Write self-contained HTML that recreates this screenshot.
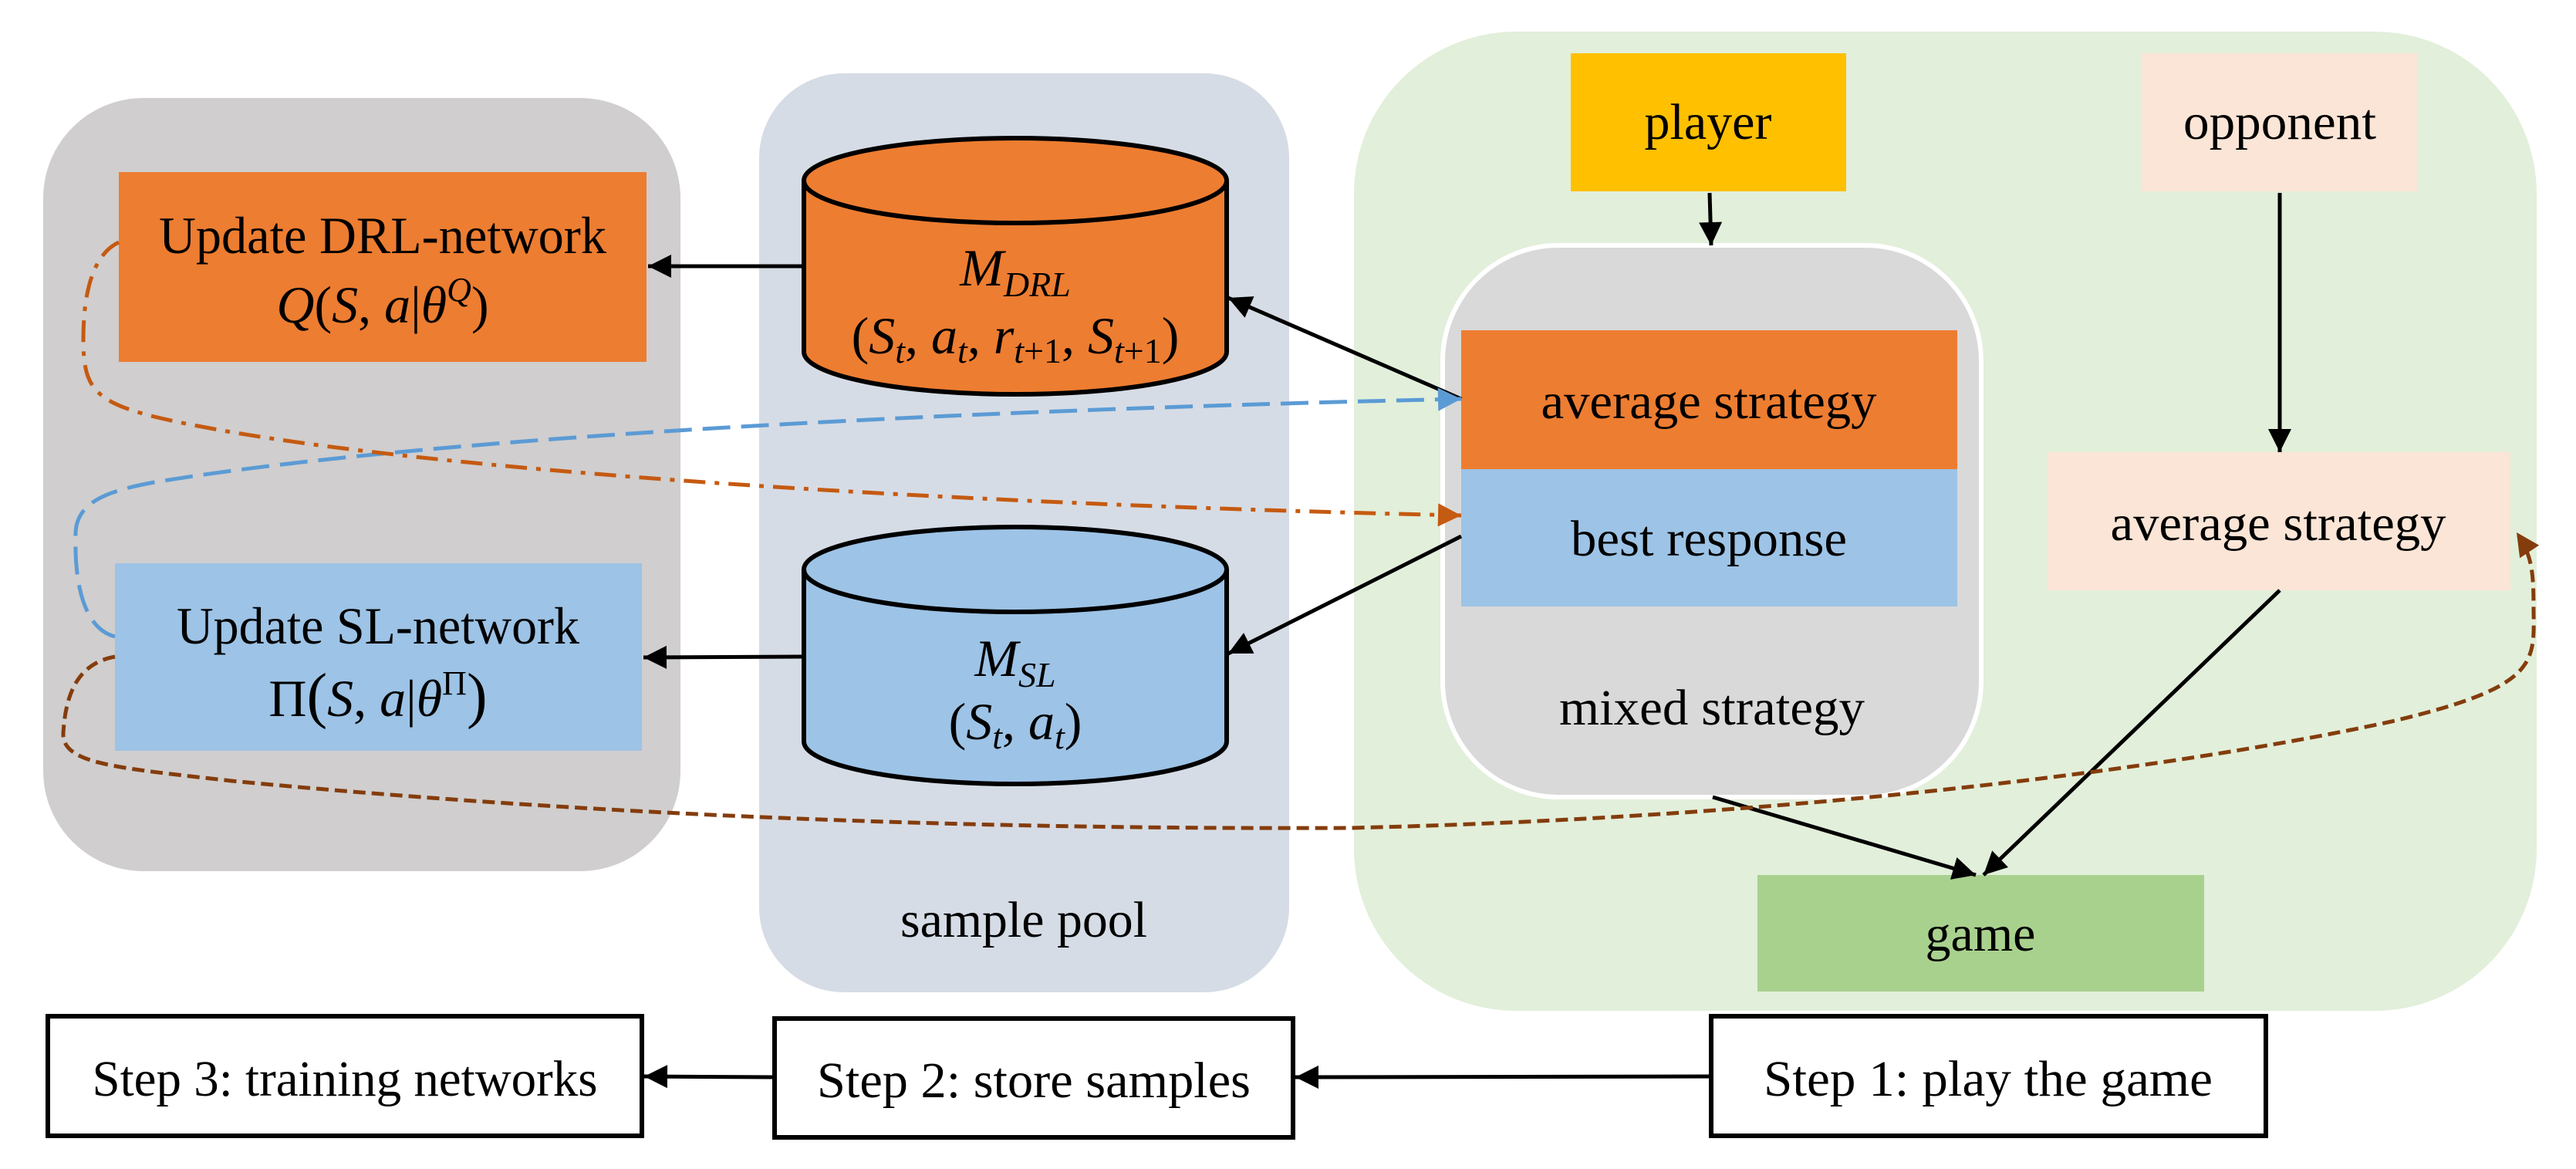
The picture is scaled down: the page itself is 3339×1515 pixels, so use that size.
<!DOCTYPE html>
<html><head><meta charset="utf-8"><style>
html,body{margin:0;padding:0;background:#fff}
svg{display:block}
text{font-family:"Liberation Serif",serif;fill:#000}
</style></head><body>
<svg width="3339" height="1515" viewBox="0 0 3339 1515" xmlns="http://www.w3.org/2000/svg">
<defs>
<marker id="ak" viewBox="0 0 10 10" refX="10" refY="5" markerWidth="34" markerHeight="30" orient="auto" markerUnits="userSpaceOnUse"><path d="M0,0 L10,5 L0,10 z" fill="#000"/></marker>
<marker id="abl" viewBox="0 0 10 10" refX="10" refY="5" markerWidth="34" markerHeight="30" orient="auto" markerUnits="userSpaceOnUse"><path d="M0,0 L10,5 L0,10 z" fill="#5B9BD5"/></marker>
<marker id="aor" viewBox="0 0 10 10" refX="10" refY="5" markerWidth="34" markerHeight="30" orient="auto" markerUnits="userSpaceOnUse"><path d="M0,0 L10,5 L0,10 z" fill="#C55A11"/></marker>
<marker id="abr" viewBox="0 0 10 10" refX="10" refY="5" markerWidth="34" markerHeight="30" orient="auto" markerUnits="userSpaceOnUse"><path d="M0,0 L10,5 L0,10 z" fill="#843C0C"/></marker>
</defs>

<rect x="56" y="127" width="826" height="1002" rx="130" fill="#D0CECE"/>
<rect x="984" y="95" width="687" height="1191" rx="110" fill="#D6DCE5"/>
<rect x="1755" y="41" width="1533" height="1269" rx="210" fill="#E2EFDA"/>

<rect x="154" y="223" width="684" height="246" fill="#ED7D31"/>
<text x="496" y="328" font-size="68" text-anchor="middle" textLength="580" lengthAdjust="spacingAndGlyphs">Update DRL-network</text>
<text x="496" y="418" font-size="68" text-anchor="middle" font-style="italic">Q<tspan font-style="normal">(</tspan>S<tspan font-style="normal">, </tspan>a<tspan font-style="normal">|</tspan>θ<tspan font-size="44" dy="-28">Q</tspan><tspan font-style="normal" dy="28">)</tspan></text>

<rect x="149" y="730" width="683" height="243" fill="#9DC3E6"/>
<text x="490" y="834" font-size="68" text-anchor="middle" textLength="522" lengthAdjust="spacingAndGlyphs">Update SL-network</text>
<text x="490" y="928" font-size="68" text-anchor="middle">Π<tspan font-size="80">(</tspan><tspan font-style="italic">S</tspan>, <tspan font-style="italic">a</tspan>|<tspan font-style="italic">θ</tspan><tspan font-size="44" dy="-28">Π</tspan><tspan font-size="80" dy="28">)</tspan></text>

<path d="M1042,234 L1042,456 A274,55 0 0 0 1590,456 L1590,234" fill="#ED7D31" stroke="#000" stroke-width="6"/>
<ellipse cx="1316" cy="234" rx="274" ry="55" fill="#ED7D31" stroke="#000" stroke-width="6"/>
<text x="1316" y="370" font-size="68" text-anchor="middle" font-style="italic">M<tspan font-size="46" dy="14">DRL</tspan></text>
<text x="1316" y="458" font-size="68" text-anchor="middle">(<tspan font-style="italic">S</tspan><tspan font-size="46" dy="12" font-style="italic">t</tspan><tspan dy="-12">, </tspan><tspan font-style="italic">a</tspan><tspan font-size="46" dy="12" font-style="italic">t</tspan><tspan dy="-12">, </tspan><tspan font-style="italic">r</tspan><tspan font-size="46" dy="12"><tspan font-style="italic">t</tspan>+1</tspan><tspan dy="-12">, </tspan><tspan font-style="italic">S</tspan><tspan font-size="46" dy="12"><tspan font-style="italic">t</tspan>+1</tspan><tspan dy="-12">)</tspan></text>

<path d="M1042,738 L1042,961 A274,55 0 0 0 1590,961 L1590,738" fill="#9DC3E6" stroke="#000" stroke-width="6"/>
<ellipse cx="1316" cy="738" rx="274" ry="55" fill="#9DC3E6" stroke="#000" stroke-width="6"/>
<text x="1316" y="876" font-size="68" text-anchor="middle" font-style="italic">M<tspan font-size="46" dy="14">SL</tspan></text>
<text x="1316" y="958" font-size="68" text-anchor="middle">(<tspan font-style="italic">S</tspan><tspan font-size="46" dy="12" font-style="italic">t</tspan><tspan dy="-12">, </tspan><tspan font-style="italic">a</tspan><tspan font-size="46" dy="12" font-style="italic">t</tspan><tspan dy="-12">)</tspan></text>

<text x="1327" y="1214" font-size="66" text-anchor="middle" textLength="320" lengthAdjust="spacingAndGlyphs">sample pool</text>

<rect x="2036" y="69" width="357" height="179" fill="#FFC000"/>
<text x="2214" y="180" font-size="66" text-anchor="middle">player</text>
<rect x="2776" y="69" width="357" height="179" fill="#FBE5D6"/>
<text x="2955" y="180" font-size="66" text-anchor="middle" textLength="250" lengthAdjust="spacingAndGlyphs">opponent</text>

<rect x="1870" y="318" width="698" height="715" rx="150" fill="#D9D9D9" stroke="#fff" stroke-width="6"/>
<rect x="1894" y="428" width="643" height="180" fill="#ED7D31"/>
<text x="2215" y="542" font-size="66" text-anchor="middle" textLength="435" lengthAdjust="spacingAndGlyphs">average strategy</text>
<rect x="1894" y="608" width="643" height="178" fill="#9DC3E6"/>
<text x="2215" y="720" font-size="66" text-anchor="middle" textLength="358" lengthAdjust="spacingAndGlyphs">best response</text>
<text x="2219" y="939" font-size="66" text-anchor="middle" textLength="396" lengthAdjust="spacingAndGlyphs">mixed strategy</text>

<rect x="2653" y="586" width="601" height="179" fill="#FBE5D6"/>
<text x="2953" y="700" font-size="66" text-anchor="middle" textLength="435" lengthAdjust="spacingAndGlyphs">average strategy</text>

<rect x="2278" y="1134" width="579" height="151" fill="#A9D18E"/>
<text x="2567" y="1232" font-size="66" text-anchor="middle">game</text>

<rect x="62" y="1317" width="770" height="155" fill="#fff" stroke="#000" stroke-width="6"/>
<text x="447" y="1420" font-size="66" text-anchor="middle" textLength="655" lengthAdjust="spacingAndGlyphs">Step 3: training networks</text>
<rect x="1004" y="1320" width="672" height="154" fill="#fff" stroke="#000" stroke-width="6"/>
<text x="1340" y="1422" font-size="66" text-anchor="middle" textLength="562" lengthAdjust="spacingAndGlyphs">Step 2: store samples</text>
<rect x="2218" y="1317" width="719" height="155" fill="#fff" stroke="#000" stroke-width="6"/>
<text x="2577" y="1420" font-size="66" text-anchor="middle" textLength="582" lengthAdjust="spacingAndGlyphs">Step 1: play the game</text>

<g stroke="#000" stroke-width="5" fill="none">
<line x1="1042" y1="345" x2="840" y2="345" marker-end="url(#ak)"/>
<line x1="1042" y1="851" x2="834" y2="852" marker-end="url(#ak)"/>
<line x1="1894" y1="517" x2="1592" y2="386" marker-end="url(#ak)"/>
<line x1="1894" y1="695" x2="1592" y2="847" marker-end="url(#ak)"/>
<line x1="2216" y1="250" x2="2218" y2="318" marker-end="url(#ak)"/>
<line x1="2955" y1="250" x2="2955" y2="586" marker-end="url(#ak)"/>
<line x1="2220" y1="1033" x2="2561" y2="1134" marker-end="url(#ak)"/>
<line x1="2955" y1="765" x2="2571" y2="1134" marker-end="url(#ak)"/>
<line x1="2218" y1="1395" x2="1679" y2="1396" marker-end="url(#ak)"/>
<line x1="1004" y1="1396" x2="835" y2="1395" marker-end="url(#ak)"/>
</g>

<path d="M149,825 C110,815 96,760 98,690 C100,650 140,636 200,625 C500,575 1100,535 1894,517" fill="none" stroke="#5B9BD5" stroke-width="5" stroke-dasharray="36,14" marker-end="url(#abl)"/>
<path d="M154,314 C120,330 108,380 108,440 C108,500 120,520 200,540 C450,600 1100,650 1894,668" fill="none" stroke="#C55A11" stroke-width="5" stroke-dasharray="28,12,6,12" marker-end="url(#aor)"/>
<path d="M149,851 C100,860 85,900 82,950 C80,990 150,995 300,1012 C800,1060 1300,1075 1750,1073 C2300,1060 2800,1000 3100,935 C3290,890 3285,860 3284,790 C3284,740 3282,720 3262,690" fill="none" stroke="#843C0C" stroke-width="5" stroke-dasharray="16,8" marker-end="url(#abr)"/>
</svg>
</body></html>
